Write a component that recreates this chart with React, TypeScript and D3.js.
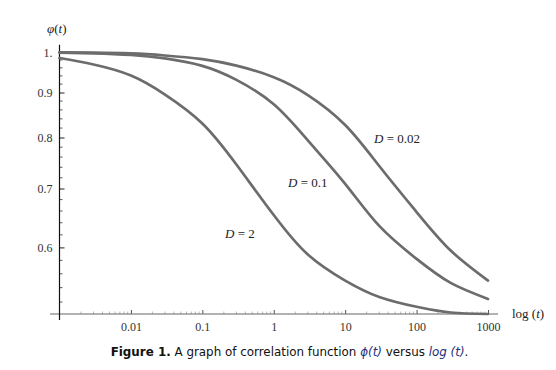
import React, { useEffect, useRef } from "react";
import * as d3 from "d3";

// sample times (half decades) and phi(t)
const times = [0.001, 0.003, 0.01, 0.03, 0.1, 0.3, 1, 3, 10, 30, 100, 300, 1000];
const phiD002 = [1.0, 0.9992, 0.9969, 0.9916, 0.9821, 0.9655, 0.9369, 0.8941, 0.8267, 0.7425, 0.6582, 0.5951, 0.5501];
const phiD01 = [0.9991, 0.997, 0.9928, 0.984, 0.9649, 0.9302, 0.8726, 0.794, 0.7086, 0.6347, 0.5822, 0.5467, 0.5243];
const phiD2 = [0.985, 0.9685, 0.941, 0.8953, 0.83, 0.7454, 0.653, 0.5889, 0.5501, 0.527, 0.5136, 0.506, 0.504];

const xTicks = [0.01, 0.1, 1, 10, 100, 1000];
const xTickLabels = ["0.01", "0.1", "1", "10", "100", "1000"];
const yTicks = [1, 0.9, 0.8, 0.7, 0.6];
const yTickLabels = ["1.", "0.9", "0.8", "0.7", "0.6"];
const yMinorTicks = [0.98, 0.96, 0.94, 0.92, 0.88, 0.86, 0.84, 0.82, 0.78, 0.76, 0.74, 0.72,
  0.68, 0.66, 0.64, 0.62, 0.58, 0.56, 0.54, 0.52];

const series = [
  { name: "0.02", values: phiD002 },
  { name: "0.1", values: phiD01 },
  { name: "2", values: phiD2 },
];

const W = 556;
const H = 370;
const SERIF = "'Liberation Serif', 'Times New Roman', serif";

const Chart = () => {
  const ref = useRef<SVGGElement | null>(null);

  useEffect(() => {
    const svg = d3.select(ref.current);
    svg.selectAll("*").remove();

    var x = d3.scaleLog().domain([0.001, 1000]).range([59.5, 488]);
    var y = d3.scaleLog().domain([0.504, 1.02]).range([314, 44.7]);

    // minor x ticks 2..9 per decade
    const xMinor: number[] = [];
    for (let k = -3; k < 3; k++) {
      for (let m = 2; m < 10; m++) xMinor.push(m * Math.pow(10, k));
    }
    svg.append("g").selectAll("line").data(xMinor).join("line")
      .attr("x1", (d) => x(d)).attr("x2", (d) => x(d))
      .attr("y1", 314).attr("y2", 311.5)
      .attr("stroke", "#aaa").attr("stroke-width", 0.8);

    // x axis
    const gx = svg.append("g").attr("transform", "translate(0,314)")
      .call(d3.axisBottom(x).tickValues(xTicks).tickSizeInner(-4).tickSizeOuter(0).tickPadding(8)
        .tickFormat((d, i) => xTickLabels[i]) as any);
    gx.select(".domain").remove();
    gx.selectAll("line").attr("stroke", "#555");
    gx.selectAll("text").attr("font-family", SERIF).attr("font-size", 12).attr("fill", "#333");
    svg.append("line").attr("x1", 50).attr("x2", 498).attr("y1", 314).attr("y2", 314)
      .attr("stroke", "#666").attr("stroke-width", 1);

    // y axis
    svg.append("g").selectAll("line").data(yMinorTicks).join("line")
      .attr("x1", 59.5).attr("x2", 62.5)
      .attr("y1", (d) => y(d)).attr("y2", (d) => y(d))
      .attr("stroke", "#333").attr("stroke-width", 0.8);
    const gy = svg.append("g").attr("transform", "translate(59.5,0)")
      .call(d3.axisLeft(y).tickValues(yTicks).tickSizeInner(-5).tickSizeOuter(0).tickPadding(7)
        .tickFormat((d, i) => yTickLabels[i]) as any);
    gy.select(".domain").remove();
    gy.selectAll("line").attr("stroke", "#222");
    gy.selectAll("text").attr("font-family", SERIF).attr("font-size", 12).attr("fill", "#333");
    svg.append("line").attr("x1", 59.5).attr("x2", 59.5).attr("y1", 44.7).attr("y2", 320)
      .attr("stroke", "#111").attr("stroke-width", 1.2);

    // curves
    const line = d3.line<number>()
      .x((d, i) => x(times[i]))
      .y((d) => y(d))
      .curve(d3.curveNatural);
    svg.append("g").selectAll("path").data(series).join("path")
      .attr("d", (s) => line(s.values))
      .attr("fill", "none")
      .attr("stroke", "#6c6c6c")
      .attr("stroke-width", 2.7)
      .attr("stroke-linecap", "round");
  }, []);

  return <g ref={ref}></g>;
};

const Labels = () => (
  <g fontFamily={SERIF} fill="#222">
    <text x={47} y={33} fontSize={13}><tspan fontStyle="italic">φ</tspan>(<tspan fontStyle="italic">t</tspan>)</text>
    <text x={512} y={318} fontSize={13}>log (<tspan fontStyle="italic">t</tspan>)</text>
    <text x={374} y={143} fontSize={13}><tspan fontStyle="italic">D</tspan> = {series[0].name}</text>
    <text x={288} y={187} fontSize={13}><tspan fontStyle="italic">D</tspan> = {series[1].name}</text>
    <text x={225} y={238} fontSize={13}><tspan fontStyle="italic">D</tspan> = {series[2].name}</text>
  </g>
);

const Caption = () => (
  <text x={289.5} y={356.3} textAnchor="middle" fontFamily="'DejaVu Sans', Verdana, sans-serif" fontSize={11.9} fill="#111">
    <tspan fontWeight="bold">Figure 1.</tspan> A graph of correlation function{" "}
    <tspan fontStyle="italic" fill="#1f2f7a">ϕ(t)</tspan> versus{" "}
    <tspan fontStyle="italic" fill="#1f2f7a">log (t)</tspan>.
  </text>
);

const App = () => (
  <svg width={W} height={H} style={{ position: "absolute", left: 0, top: 0, background: "#fff" }}>
    <Chart />
    <Labels />
    <Caption />
  </svg>
);

export default App;
